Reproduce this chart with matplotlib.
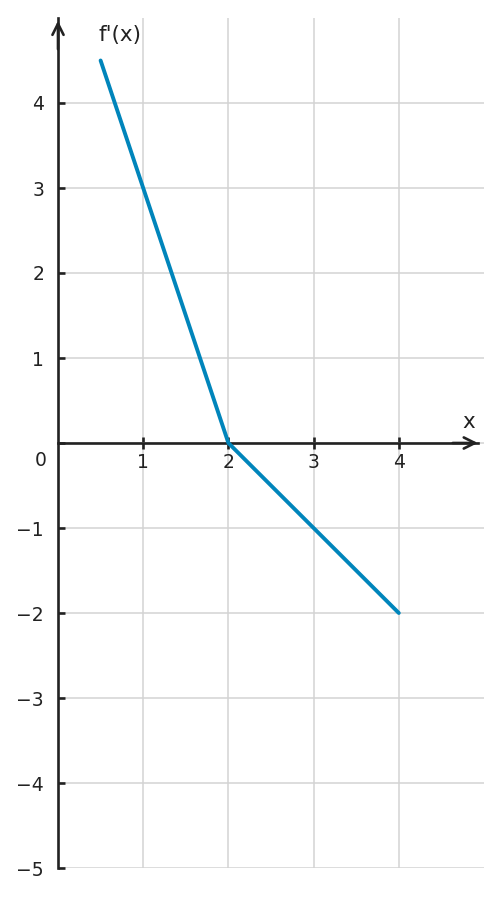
import matplotlib.pyplot as plt

# points of f'(x)
xs = [0.5, 2, 4]
ys = [4.5, 0, -2]

xticks = [1, 2, 3, 4]
yticks = [-5, -4, -3, -2, -1, 0, 1, 2, 3, 4]
ylabels = ['\u22125', '\u22124', '\u22123', '\u22122', '\u22121', '', '1', '2', '3', '4']

fig = plt.figure(figsize=(5.01, 8.97), dpi=100)
ax = fig.add_axes([58 / 501, 29 / 897, 426 / 501, 850 / 897])
ax.set_xlim(0, 5)
ax.set_ylim(-5, 5)

ax.set_xticks(xticks)
ax.set_yticks(yticks)
ax.set_yticklabels(ylabels)
ax.grid(True, color='#d3d3d3', lw=1.1)
ax.set_axisbelow(True)

dark = '#222222'
for s in ['top', 'right']:
    ax.spines[s].set_visible(False)
ax.spines['left'].set_position(('data', 0))
ax.spines['bottom'].set_position(('data', 0))
ax.spines['bottom'].set_bounds(0, 4.93)
for s in ['left', 'bottom']:
    ax.spines[s].set_linewidth(1.9)
    ax.spines[s].set_color(dark)

ax.tick_params(axis='x', direction='inout', length=9, width=1.9, colors=dark,
               labelsize=13.5, pad=3)
ax.tick_params(axis='y', direction='in', length=5, width=1.9, colors=dark,
               labelsize=13.5, pad=10)

# arrows at the ends of the axes
arrow = dict(arrowstyle='->', color=dark, lw=1.9, mutation_scale=20)
ax.annotate('', xy=(4.96, 0), xytext=(4.6, 0), arrowprops=arrow)
ax.annotate('', xy=(0, 5.0), xytext=(0, 4.6), arrowprops=arrow, annotation_clip=False)

ax.plot(xs, ys, color='#0085bb', lw=2.8, solid_capstyle='round', zorder=3)

ax.text(-0.2, -0.2, '0', fontsize=13.5, color=dark, ha='center', va='center')
ax.text(4.82, 0.25, 'x', fontsize=15.5, color=dark, ha='center', va='center')
ax.text(0.73, 4.8, "f'(x)", fontsize=15.5, color=dark, ha='center', va='center')

fig.savefig('out.png', dpi=100)
